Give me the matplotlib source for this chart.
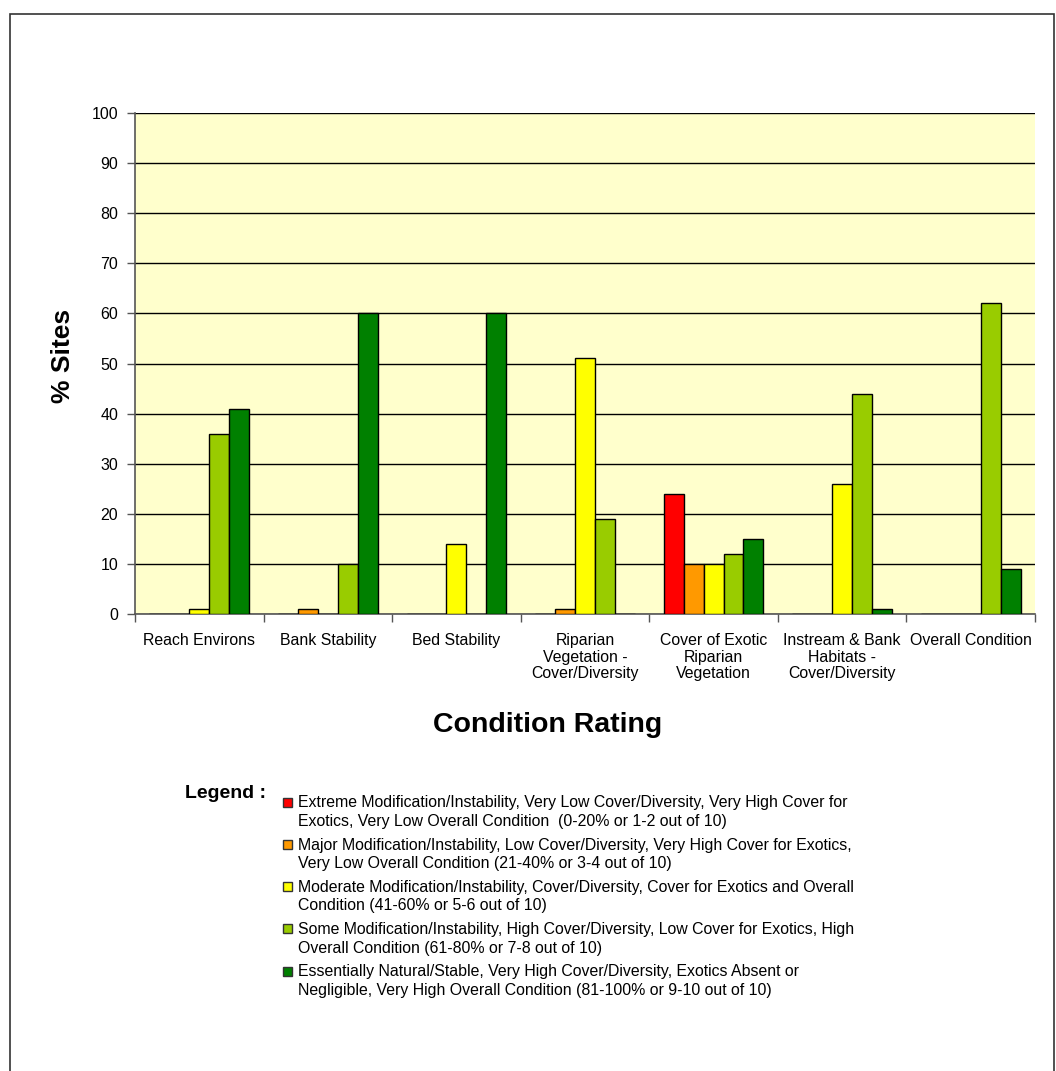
import numpy as np
import matplotlib
matplotlib.use("Agg")
import matplotlib.pyplot as plt
from matplotlib.patches import Rectangle

plt.rcParams['font.family'] = ['Liberation Sans', 'DejaVu Sans']

# Datos
categorias = ['Reach Environs', 'Bank Stability', 'Bed Stability',
              'Riparian\nVegetation -\nCover/Diversity', 'Cover of Exotic\nRiparian\nVegetation',
              'Instream & Bank\nHabitats -\nCover/Diversity', 'Overall Condition']
extreme = [0, 0, 0, 0, 24, 0, 0]
major = [0, 1, 0, 1, 10, 0, 0]
moderate = [1, 0, 14, 51, 10, 26, 0]
some = [36, 10, 0, 19, 12, 44, 62]
natural = [41, 60, 60, 0, 15, 1, 9]
series = [extreme, major, moderate, some, natural]
colores = ['#FF0000', '#FF9900', '#FFFF00', '#99CC00', '#008000']
leyenda = [
    'Extreme Modification/Instability, Very Low Cover/Diversity, Very High Cover for\nExotics, Very Low Overall Condition  (0-20% or 1-2 out of 10)',
    'Major Modification/Instability, Low Cover/Diversity, Very High Cover for Exotics,\nVery Low Overall Condition (21-40% or 3-4 out of 10)',
    'Moderate Modification/Instability, Cover/Diversity, Cover for Exotics and Overall\nCondition (41-60% or 5-6 out of 10)',
    'Some Modification/Instability, High Cover/Diversity, Low Cover for Exotics, High\nOverall Condition (61-80% or 7-8 out of 10)',
    'Essentially Natural/Stable, Very High Cover/Diversity, Exotics Absent or\nNegligible, Very High Overall Condition (81-100% or 9-10 out of 10)',
]

W, H = 1056, 1071
fig = plt.figure(figsize=(W / 100, H / 100), dpi=100)
fig.patch.set_facecolor('white')

# Borde exterior
fig.patches.append(Rectangle((10 / W, -0.05), (1054 - 10) / W, 1 - 14 / H + 0.05,
                             transform=fig.transFigure, fill=False,
                             edgecolor='#333333', linewidth=1.2))

ax = fig.add_axes([135 / W, 1 - 614 / H, (1035 - 135) / W, (614 - 113) / H])
ax.set_facecolor('#FFFFCC')

x = np.arange(len(categorias))
ancho = 0.155
for i, (vals, c) in enumerate(zip(series, colores)):
    pos = x + (i - 2) * ancho
    ax.bar(pos, vals, width=ancho, color=c, edgecolor='black', linewidth=1.0, zorder=3)

ax.set_xlim(-0.5, len(categorias) - 0.5)
ax.set_ylim(0, 100)
ax.set_yticks(range(0, 101, 10))
ax.yaxis.grid(True, color='black', linewidth=1.0, zorder=0)
ax.set_axisbelow(True)
ax.tick_params(axis='y', labelsize=11.5, length=6, width=1, color='#555555', pad=6)
ax.set_xticks(x)
ax.set_xticklabels(categorias, fontsize=11.4, linespacing=1.12, va='top')
ax.tick_params(axis='x', length=0, pad=14)
ax.set_xticks(np.arange(-0.5, len(categorias) + 0.5, 1), minor=True)
ax.tick_params(axis='x', which='minor', length=6, width=1, color='#555555')
for s in ['top', 'right']:
    ax.spines[s].set_visible(False)
for s in ['left', 'bottom']:
    ax.spines[s].set_color('#555555')
    ax.spines[s].set_linewidth(1.2)

fig.text(63 / W, 1 - 356 / H, '% Sites', fontsize=19, fontweight='bold',
         rotation=90, ha='center', va='center')
fig.text(548 / W, 1 - 725 / H, 'Condition Rating', fontsize=20.5, fontweight='bold',
         ha='center', va='center')

# Leyenda
fig.text(185 / W, 1 - 793 / H, 'Legend :', fontsize=14, fontweight='bold',
         ha='left', va='center')
y0 = 802
for i, (txt, c) in enumerate(zip(leyenda, colores)):
    yy = y0 + i * 42.3
    fig.patches.append(Rectangle((283 / W, 1 - (yy + 4.5) / H), 9 / W, 9 / H,
                                 transform=fig.transFigure, facecolor=c,
                                 edgecolor='#333333', linewidth=1.0))
    fig.text(298 / W, 1 - (yy + 10) / H, txt, fontsize=11.4,
             ha='left', va='center', linespacing=1.29)

fig.savefig('out.png', dpi=100)
